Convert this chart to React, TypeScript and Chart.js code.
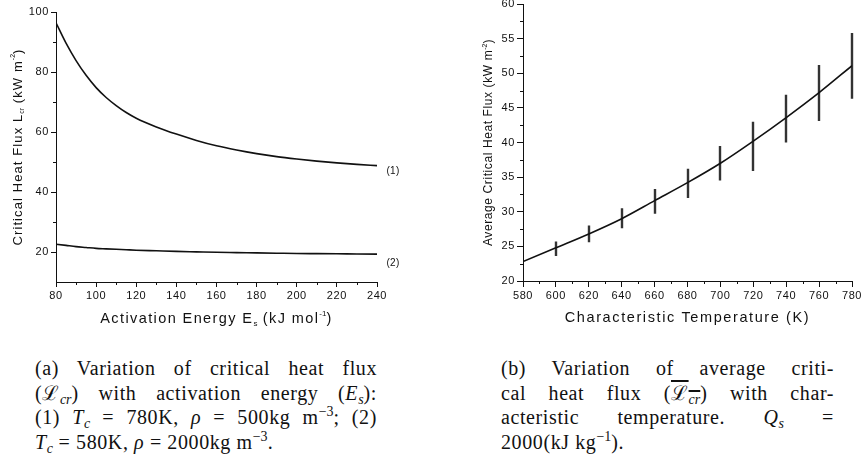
import React, { useEffect, useRef } from "react";
import { Chart, registerables } from "chart.js";

Chart.register(...registerables);

// ---------- Data: panel (a) ----------
const energies = [80, 85, 90, 95, 100, 105, 110, 115, 120, 130, 140, 150, 160, 170, 180, 190, 200, 210, 220, 230, 240];
const flux1 = [96.4, 89.6, 83.8, 78.9, 74.8, 71.5, 68.8, 66.5, 64.6, 61.7, 59.3, 57.2, 55.4, 54.0, 52.8, 51.8, 51.0, 50.3, 49.7, 49.2, 48.8];
const flux2 = [22.6, 22.2, 21.8, 21.5, 21.2, 21.05, 20.9, 20.75, 20.6, 20.4, 20.2, 20.05, 19.9, 19.8, 19.7, 19.6, 19.5, 19.45, 19.4, 19.35, 19.3];
const energyTicks = [80, 100, 120, 140, 160, 180, 200, 220, 240];
const fluxTicks = [20, 40, 60, 80, 100];
const curveLabels = ["(1)", "(2)"];

// ---------- Data: panel (b) ----------
const temps = [580, 600, 620, 640, 660, 680, 700, 720, 740, 760, 780];
const avgFlux = [22.8, 24.8, 26.8, 29.0, 31.6, 34.2, 37.0, 40.2, 43.6, 47.2, 51.1];
const barTemps = [600, 620, 640, 660, 680, 700, 720, 740, 760, 780];
const barLow = [23.6, 25.6, 27.6, 29.7, 32.0, 34.5, 35.9, 40.0, 43.1, 46.3];
const barHigh = [25.7, 28.0, 30.5, 33.3, 36.2, 39.5, 43.0, 46.9, 51.2, 55.8];
const tempTicks = [580, 600, 620, 640, 660, 680, 700, 720, 740, 760, 780];
const avgTicks = [20, 25, 30, 35, 40, 45, 50, 55, 60];

const SANS = '"Liberation Sans", Arial, Helvetica, sans-serif';
const INK = "#111";

type Part = { t: string; s?: "sub" | "sup" };

function drawRich(ctx: CanvasRenderingContext2D, parts: Part[], cx: number, cy: number, size: number, rotate: boolean, spacing: number) {
  ctx.save();
  ctx.translate(cx, cy);
  if (rotate) ctx.rotate(-Math.PI / 2);
  const small = Math.round(size * 0.55);
  const fontFor = (p: Part) => `${p.s ? small : size}px ${SANS}`;
  let total = 0;
  const widths = parts.map((p) => {
    ctx.font = fontFor(p);
    (ctx as any).letterSpacing = p.s ? "0px" : `${spacing}px`;
    const w = ctx.measureText(p.t).width;
    total += w;
    return w;
  });
  let x = -total / 2;
  ctx.textBaseline = "middle";
  ctx.textAlign = "left";
  ctx.fillStyle = INK;
  parts.forEach((p, i) => {
    ctx.font = fontFor(p);
    (ctx as any).letterSpacing = p.s ? "0px" : `${spacing}px`;
    const dy = p.s === "sub" ? size * 0.3 : p.s === "sup" ? -size * 0.35 : 0;
    ctx.fillText(p.t, x, dy);
    x += widths[i];
  });
  ctx.restore();
}

function midpoints(ticks: number[]) {
  const out: number[] = [];
  for (let i = 0; i < ticks.length - 1; i++) out.push((ticks[i] + ticks[i + 1]) / 2);
  return out;
}

type DecorCfg = {
  xMinor: number[];
  yMinor: number[];
  minorLen: number;
  xTitle: Part[];
  yTitle: Part[];
  xTitleY: number;
  yTitleX: number;
  titleSize: number;
  titleSpacing: number;
  yTitleSize: number;
  yTitleSpacing: number;
  extra?: (chart: any) => void;
  before?: (chart: any) => void;
};

function decorPlugin(cfg: DecorCfg) {
  return {
    id: "decor",
    beforeDraw(chart: any) {
      (chart.ctx as any).letterSpacing = "0.6px";
    },
    beforeDatasetsDraw(chart: any) {
      if (cfg.before) cfg.before(chart);
    },
    afterDraw(chart: any) {
      const ctx: CanvasRenderingContext2D = chart.ctx;
      const { left, right, top, bottom } = chart.chartArea;
      const xs = chart.scales.x;
      const ys = chart.scales.y;
      ctx.save();
      ctx.strokeStyle = INK;
      ctx.lineWidth = 1;
      ctx.beginPath();
      cfg.xMinor.forEach((v) => {
        const px = Math.round(xs.getPixelForValue(v)) + 0.5;
        ctx.moveTo(px, Math.round(bottom));
        ctx.lineTo(px, Math.round(bottom) + cfg.minorLen);
      });
      cfg.yMinor.forEach((v) => {
        const py = Math.round(ys.getPixelForValue(v)) + 0.5;
        ctx.moveTo(Math.round(left), py);
        ctx.lineTo(Math.round(left) - cfg.minorLen, py);
      });
      ctx.stroke();
      ctx.restore();
      drawRich(ctx, cfg.xTitle, (left + right) / 2, cfg.xTitleY, cfg.titleSize, false, cfg.titleSpacing);
      drawRich(ctx, cfg.yTitle, cfg.yTitleX, (top + bottom) / 2, cfg.yTitleSize, true, cfg.yTitleSpacing);
      if (cfg.extra) cfg.extra(chart);
      (ctx as any).letterSpacing = "0px";
    },
  };
}

function axis(min: number, max: number, ticks: number[], fitSize: number, isX: boolean, tickLen: number) {
  return {
    type: "linear",
    min,
    max,
    afterBuildTicks: (s: any) => {
      s.ticks = ticks.map((v) => ({ value: v }));
    },
    afterFit: (s: any) => {
      if (isX) s.height = fitSize;
      else s.width = fitSize;
      s.paddingLeft = 0;
      s.paddingRight = 0;
      s.paddingTop = 0;
      s.paddingBottom = 0;
    },
    grid: { drawOnChartArea: false, drawTicks: true, tickLength: tickLen, tickColor: INK, tickWidth: 1 },
    border: { color: INK, width: 1 },
    ticks: {
      font: { size: 11, family: SANS },
      color: INK,
      padding: 2,
      maxRotation: 0,
      autoSkip: false,
      callback: (v: any) => String(v),
    },
  };
}

function LeftChart() {
  const ref = useRef<HTMLCanvasElement>(null);
  useEffect(() => {
    const chart = new Chart(ref.current!, {
      type: "line",
      data: {
        datasets: [
          { data: energies.map((e, i) => ({ x: e, y: flux1[i] })), borderColor: INK, borderWidth: 1.6, pointRadius: 0, cubicInterpolationMode: "monotone", fill: false },
          { data: energies.map((e, i) => ({ x: e, y: flux2[i] })), borderColor: INK, borderWidth: 1.6, pointRadius: 0, cubicInterpolationMode: "monotone", fill: false },
        ],
      },
      options: {
        responsive: false,
        animation: false,
        devicePixelRatio: 1,
        layout: { padding: { left: 0, top: 12, right: 53, bottom: 0 } },
        plugins: { legend: { display: false }, tooltip: { enabled: false } },
        scales: {
          x: axis(80, 240, energyTicks, 53, true, 5) as any,
          y: axis(10, 100, fluxTicks, 56, false, 5) as any,
        },
      },
      plugins: [
        decorPlugin({
          xMinor: midpoints(energyTicks),
          yMinor: [30, 50, 70, 90],
          minorLen: 3,
          xTitle: [{ t: "Activation Energy E" }, { t: "s", s: "sub" }, { t: " (kJ mol" }, { t: "-1", s: "sup" }, { t: ")" }],
          yTitle: [{ t: "Critical Heat Flux L" }, { t: "cr", s: "sub" }, { t: " (kW m" }, { t: "-2", s: "sup" }, { t: ")" }],
          xTitleY: 319,
          yTitleX: 18,
          titleSize: 14.5,
          titleSpacing: 1.4,
          yTitleSize: 13,
          yTitleSpacing: 1.1,
          extra: (c: any) => {
            const ctx: CanvasRenderingContext2D = c.ctx;
            const ys = c.scales.y;
            const right = c.chartArea.right;
            const lasts = [flux1[flux1.length - 1], flux2[flux2.length - 1]];
            const offs = [5.5, 9];
            ctx.save();
            (ctx as any).letterSpacing = "0.3px";
            ctx.font = `10px ${SANS}`;
            ctx.fillStyle = INK;
            ctx.textAlign = "center";
            ctx.textBaseline = "middle";
            curveLabels.forEach((lab, i) => {
              ctx.fillText(lab, right + 16, ys.getPixelForValue(lasts[i]) + offs[i]);
            });
            ctx.restore();
          },
        }),
      ],
    } as any);
    return () => chart.destroy();
  }, []);
  return <canvas ref={ref} width={430} height={335} style={{ display: "block", position: "absolute", left: 0, top: 0 }} />;
}

function RightChart() {
  const ref = useRef<HTMLCanvasElement>(null);
  useEffect(() => {
    const chart = new Chart(ref.current!, {
      type: "line",
      data: {
        datasets: [
          { data: temps.map((t, i) => ({ x: t, y: avgFlux[i] })), borderColor: INK, borderWidth: 1.6, pointRadius: 0, cubicInterpolationMode: "monotone", fill: false },
        ],
      },
      options: {
        responsive: false,
        animation: false,
        devicePixelRatio: 1,
        layout: { padding: { left: 0, top: 4, right: 9, bottom: 0 } },
        plugins: { legend: { display: false }, tooltip: { enabled: false } },
        scales: {
          x: axis(580, 780, tempTicks, 54, true, 6) as any,
          y: axis(20, 60, avgTicks, 93, false, 6) as any,
        },
      },
      plugins: [
        decorPlugin({
          xMinor: midpoints(tempTicks),
          yMinor: midpoints(avgTicks),
          minorLen: 3,
          xTitle: [{ t: "Characteristic Temperature (K)" }],
          yTitle: [{ t: "Average Critical Heat Flux (kW m" }, { t: "-2", s: "sup" }, { t: ")" }],
          xTitleY: 318,
          yTitleX: 59,
          titleSize: 14.5,
          titleSpacing: 1.6,
          yTitleSize: 12,
          yTitleSpacing: 0.6,
          before: (c: any) => {
            const ctx: CanvasRenderingContext2D = c.ctx;
            const xs = c.scales.x;
            const ys = c.scales.y;
            ctx.save();
            ctx.strokeStyle = "#333";
            ctx.lineWidth = 2.4;
            ctx.beginPath();
            barTemps.forEach((t, i) => {
              const px = Math.round(xs.getPixelForValue(t));
              ctx.moveTo(px, ys.getPixelForValue(barLow[i]));
              ctx.lineTo(px, ys.getPixelForValue(barHigh[i]));
            });
            ctx.stroke();
            ctx.restore();
          },
        }),
      ],
    } as any);
    return () => chart.destroy();
  }, []);
  return <canvas ref={ref} width={431} height={335} style={{ display: "block", position: "absolute", left: 430, top: 0 }} />;
}

const SERIF = '"Liberation Serif", "Times New Roman", "DejaVu Serif", serif';
const sub: React.CSSProperties = { fontSize: "70%", verticalAlign: "-0.28em", lineHeight: 0, letterSpacing: 0 };
const sup: React.CSSProperties = { fontSize: "70%", verticalAlign: "0.55em", lineHeight: 0, letterSpacing: 0 };
const just: React.CSSProperties = { textAlign: "justify", textAlignLast: "justify" };

function Cal() {
  return (
    <span>
      <span>ℒ</span>
      <span style={sub}><i>cr</i></span>
    </span>
  );
}

function Captions() {
  const box: React.CSSProperties = {
    position: "absolute",
    top: 356,
    fontFamily: SERIF,
    fontSize: 20,
    lineHeight: "24.6px",
    letterSpacing: "0.6px",
    color: INK,
  };
  return (
    <>
      <div style={{ ...box, left: 35, width: 342 }}>
        <div style={just}>(a) Variation of critical heat flux</div>
        <div style={just}>
          (<Cal />) with activation energy (<i>E</i><span style={sub}><i>s</i></span>):
        </div>
        <div style={just}>
          (1) <i>T</i><span style={sub}><i>c</i></span> = 780K, <i>ρ</i> = 500kg m<span style={sup}>−3</span>; (2)
        </div>
        <div>
          <i>T</i><span style={sub}><i>c</i></span> = 580K, <i>ρ</i> = 2000kg m<span style={sup}>−3</span>.
        </div>
      </div>
      <div style={{ ...box, left: 501, width: 333 }}>
        <div style={just}>(b) Variation of average criti-</div>
        <div style={just}>
          cal heat flux (<span style={{ textDecoration: "overline" }}><Cal /></span>) with char-
        </div>
        <div style={just}>
          acteristic temperature. <i>Q</i><span style={sub}><i>s</i></span> =
        </div>
        <div>
          2000(kJ kg<span style={sup}>−1</span>).
        </div>
      </div>
    </>
  );
}

export default function App() {
  return (
    <div style={{ position: "absolute", left: 0, top: 0, width: 861, height: 461, background: "#fff", overflow: "hidden" }}>
      <LeftChart />
      <RightChart />
      <Captions />
    </div>
  );
}
